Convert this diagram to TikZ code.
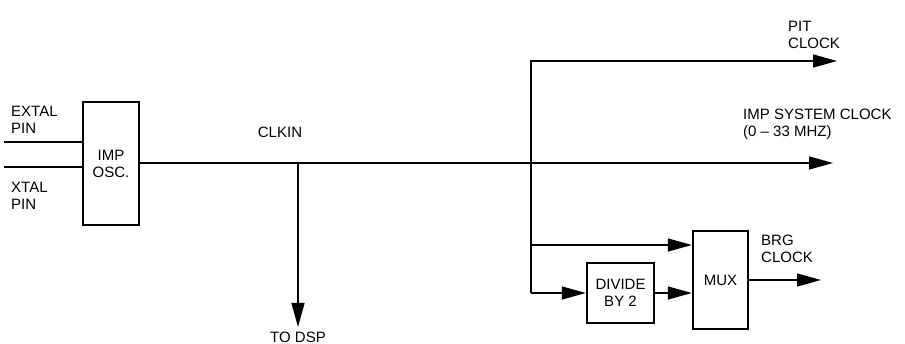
\documentclass[tikz,border=0pt]{standalone}
\usepackage{fontspec}
\setmainfont{Liberation Sans}
\usetikzlibrary{arrows.meta,calc}
\begin{document}
\begin{tikzpicture}[x=1pt,y=-1pt,
  font=\fontsize{15}{17}\selectfont,
  wire/.style={line width=1.4pt},
  arr/.style={wire,-{Triangle[length=24pt,width=13pt]}},
  blk/.style={draw,line width=2.4pt,inner sep=0pt,align=center},
  lbl/.style={align=left,inner sep=0pt,anchor=west}]
\useasboundingbox (0,0) rectangle (905,344);
% blocks
\node[blk,minimum width=56pt,minimum height=123pt] (osc) at (111,163.5) {IMP\\OSC.};
\node[blk,minimum width=67pt,minimum height=60pt] (div) at (620.5,293) {DIVIDE\\BY 2};
\node[blk,minimum width=55pt,minimum height=98pt] (mux) at (720.5,280) {MUX};
% coordinates
\coordinate (extal) at (4,142);
\coordinate (xtal) at (4,167);
\coordinate (clk) at (298,163);
\coordinate (dspend) at (298,327);
\coordinate (br) at (531,163);
\coordinate (brtop) at (531,61);
\coordinate (brbot) at (531,293);
\coordinate (brmux) at (531,245);
\coordinate (pitend) at (837,61);
\coordinate (sysend) at (833,163);
\coordinate (brgend) at (821,280);
% input lines
\draw[wire] (extal) -- (extal -| osc.west);
\draw[wire] (xtal) -- (xtal -| osc.west);
% main clock line
\draw[arr] (osc.east |- clk) -- (sysend);
\draw[arr] (clk) -- (dspend);
% branches
\draw[arr] (brbot) -- (brtop) -- (pitend);
\draw[arr] (brbot) -- (div.west);
\draw[arr] (brmux) -- (brmux -| mux.west);
\draw[arr] (div.east) -- (div.east -| mux.west);
\draw[arr] (mux.east) -- (brgend);
% labels
\node[lbl] (extallbl) at (11,120) {EXTAL\\PIN};
\node[lbl] (xtallbl) at (11,196) {XTAL\\PIN};
\node (clkin) at (280,132) {CLKIN};
\node (todsp) at (298,337) {TO DSP};
\node[lbl] (pitlbl) at (788,35) {PIT\\CLOCK};
\node[lbl] (syslbl) at (743,124) {IMP SYSTEM CLOCK\\(0 -- 33 MHZ)};
\node[lbl] (brglbl) at (761,249) {BRG\\CLOCK};
\end{tikzpicture}
\end{document}
